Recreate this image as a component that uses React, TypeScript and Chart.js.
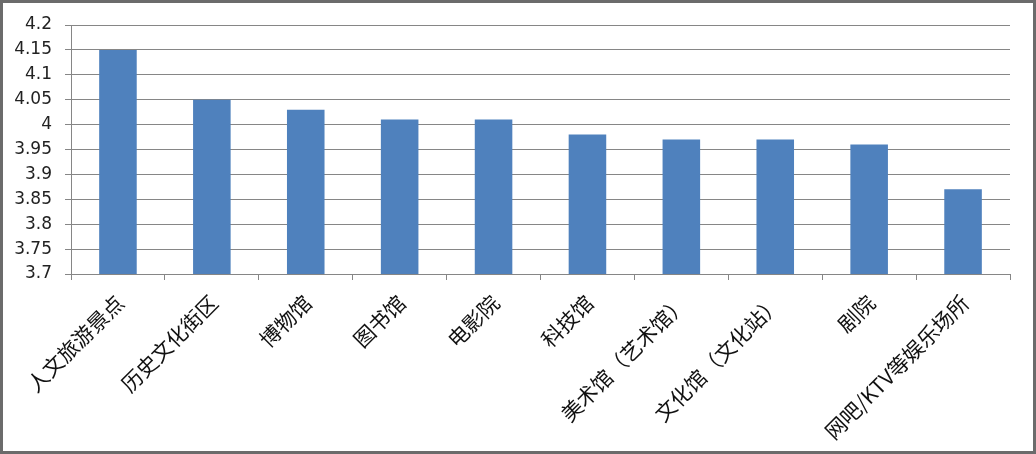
import { useEffect, useRef } from 'react';
import { Chart, registerables } from 'chart.js';

Chart.register(...registerables);

// categories along the x axis
const categories = [
  '人文旅游景点',
  '历史文化街区',
  '博物馆',
  '图书馆',
  '电影院',
  '科技馆',
  '美术馆（艺术馆）',
  '文化馆（文化站）',
  '剧院',
  '网吧/KTV等娱乐场所',
];
// bar values
const scores = [4.15, 4.05, 4.03, 4.01, 4.01, 3.98, 3.97, 3.97, 3.96, 3.87];
// y axis range
const yMin = 3.7;
const yMax = 4.2;
const yStep = 0.05;

const App = () => {
  const ref = useRef<HTMLCanvasElement>(null);

  useEffect(() => {
    if (ref.current == null) {
      return () => {};
    }
    const chart = new Chart(ref.current, {
      type: 'bar',
      data: {
        labels: categories,
        datasets: [
          {
            label: '评分',
            data: scores,
            backgroundColor: '#4F81BD',
            categoryPercentage: 1,
            barPercentage: 0.4,
          },
        ],
      },
      options: {
        animation: false,
        responsive: false,
        maintainAspectRatio: false,
        layout: { padding: { left: 0, top: 25, right: 26, bottom: 0 } },
        plugins: {
          legend: { display: false },
          tooltip: { enabled: false },
        },
        scales: {
          x: {
            grid: {
              display: true,
              drawOnChartArea: false,
              color: '#868686',
              tickLength: 6,
              offset: true,
            },
            border: { color: '#868686' },
            ticks: {
              autoSkip: false,
              minRotation: 45,
              maxRotation: 45,
              labelOffset: 2,
              padding: 10,
              color: '#111',
              font: { family: '"Noto Sans CJK SC"', size: 21 },
            },
            afterFit: (scale: any) => {
              scale.height = 180;
            },
          },
          y: {
            min: yMin,
            max: yMax,
            ticks: {
              stepSize: yStep,
              padding: 13,
              color: '#222',
              font: { family: '"DejaVu Sans"', size: 17 },
              callback: (v: any) => String(Number(Number(v).toFixed(2))),
            },
            grid: { color: '#868686', tickLength: 6 },
            border: { color: '#868686' },
            afterFit: (scale: any) => {
              scale.width = 71;
            },
          },
        },
      },
    });
    return () => {
      chart.destroy();
    };
  }, []);

  return (
    <div style={{ position: 'fixed', left: 0, top: 0, width: 1036, height: 454, background: '#fff' }}>
      <canvas ref={ref} width={1036} height={454} />
      <div
        style={{
          position: 'absolute',
          left: 0,
          top: 0,
          width: 1036,
          height: 454,
          boxSizing: 'border-box',
          border: '3px solid #6b6b6b',
          pointerEvents: 'none',
        }}
      />
    </div>
  );
};

export default App;
